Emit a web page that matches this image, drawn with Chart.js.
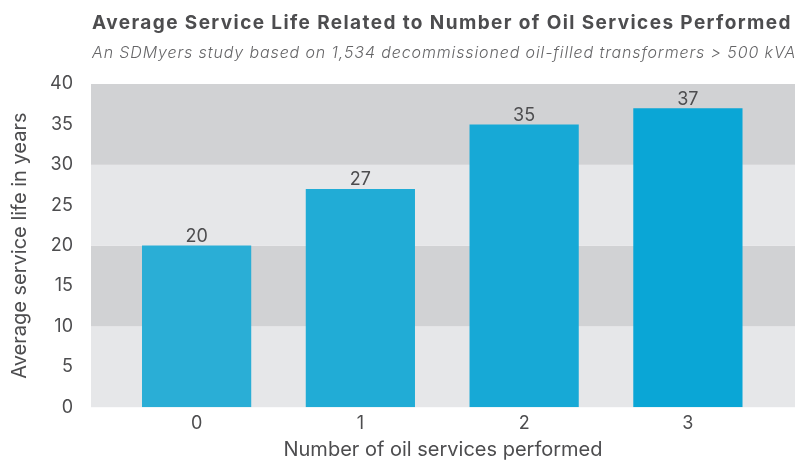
<!DOCTYPE html>
<html>
<head>
<meta charset="utf-8">
<script src="https://cdn.jsdelivr.net/npm/chart.js@4"></script>
<style>
  html, body { margin: 0; padding: 0; background: #fff; }
  #wrap { position: relative; width: 795px; height: 461px; }
  #title {
    position: absolute; left: 92px; top: 11px; margin: 0;
    font: bold 19px Inter, sans-serif; letter-spacing: 1.4px; color: #4d4d4f; white-space: nowrap;
  }
  #subtitle {
    position: absolute; left: 92px; top: 42px; margin: 0;
    font: italic 300 16px Inter, sans-serif; letter-spacing: 0.88px; color: #666668; white-space: nowrap;
  }
</style>
</head>
<body>
<div id="wrap">
  <canvas id="chart" width="795" height="461"></canvas>
  <h1 id="title">Average Service Life Related to Number of Oil Services Performed</h1>
  <p id="subtitle">An SDMyers study based on 1,534 decommissioned oil-filled transformers &gt; 500 kVA</p>
</div>
<script>
  // Average service life (years) by number of oil services performed.
  const SERVICES = [0, 1, 2, 3];
  const LIFE_YEARS = [20, 27, 35, 37];
  const BAR_COLORS = ["#2aaed6", "#21acd6", "#17a9d6", "#0aa6d6"];
  const Y_TICKS = [0, 5, 10, 15, 20, 25, 30, 35, 40];

  const TEXT = "#4d4d4f";
  const FONT = "Inter, sans-serif";

  // alternating grey bands every 10 years, behind the bars
  const bandsPlugin = {
    id: "bands",
    beforeDatasetsDraw(chart) {
      const { ctx, chartArea: a, scales: { y } } = chart;
      ctx.save();
      for (let v = 0; v < 40; v += 10) {
        const top = y.getPixelForValue(v + 10);
        const bot = y.getPixelForValue(v);
        ctx.fillStyle = (v / 10) % 2 === 0 ? "#e6e7e9" : "#d1d2d4";
        ctx.fillRect(a.left, top, a.right - a.left, bot - top);
      }
      ctx.restore();
    },
  };

  // value labels over each bar
  const labelsPlugin = {
    id: "barLabels",
    afterDatasetsDraw(chart) {
      const { ctx } = chart;
      const meta = chart.getDatasetMeta(0);
      ctx.save();
      ctx.fillStyle = TEXT;
      ctx.font = "18px " + FONT;
      ctx.textAlign = "center";
      ctx.textBaseline = "bottom";
      meta.data.forEach((bar, i) => {
        ctx.fillText(String(LIFE_YEARS[i]), bar.x, bar.y);
      });
      ctx.restore();
    },
  };

  new Chart(document.getElementById("chart"), {
    type: "bar",
    data: {
      datasets: [{
        data: SERVICES.map((s, i) => ({ x: s, y: LIFE_YEARS[i] })),
        backgroundColor: BAR_COLORS,
        categoryPercentage: 1,
        barPercentage: 0.667,
      }],
    },
    options: {
      responsive: false,
      animation: false,
      layout: { padding: { top: 84, right: 0, left: 8, bottom: 0 } },
      plugins: { legend: { display: false }, tooltip: { enabled: false } },
      scales: {
        x: {
          type: "linear",
          offset: false,
          min: -0.645,
          max: 3.654,
          grid: { display: false, drawTicks: false, offset: false },
          border: { display: false },
          afterBuildTicks: (scale) => {
            scale.ticks = SERVICES.map((v) => ({ value: v }));
          },
          ticks: { color: TEXT, font: { family: FONT, size: 18, lineHeight: 1.1 }, padding: 6 },
          title: {
            display: true, text: "Number of oil services performed",
            color: TEXT, font: { family: FONT, size: 20, lineHeight: 1.1 }, padding: { top: 0, bottom: 0 },
          },
        },
        y: {
          min: 0,
          max: 40,
          grid: { display: false, drawTicks: false },
          border: { display: false },
          afterBuildTicks: (scale) => {
            scale.ticks = Y_TICKS.map((v) => ({ value: v }));
          },
          ticks: { color: TEXT, font: { family: FONT, size: 18 }, padding: 18 },
          title: {
            display: true, text: "Average service life in years",
            color: TEXT, font: { family: FONT, size: 20 }, padding: { top: 0, bottom: 0 },
          },
        },
      },
    },
    plugins: [bandsPlugin, labelsPlugin],
  });
</script>
</body>
</html>
